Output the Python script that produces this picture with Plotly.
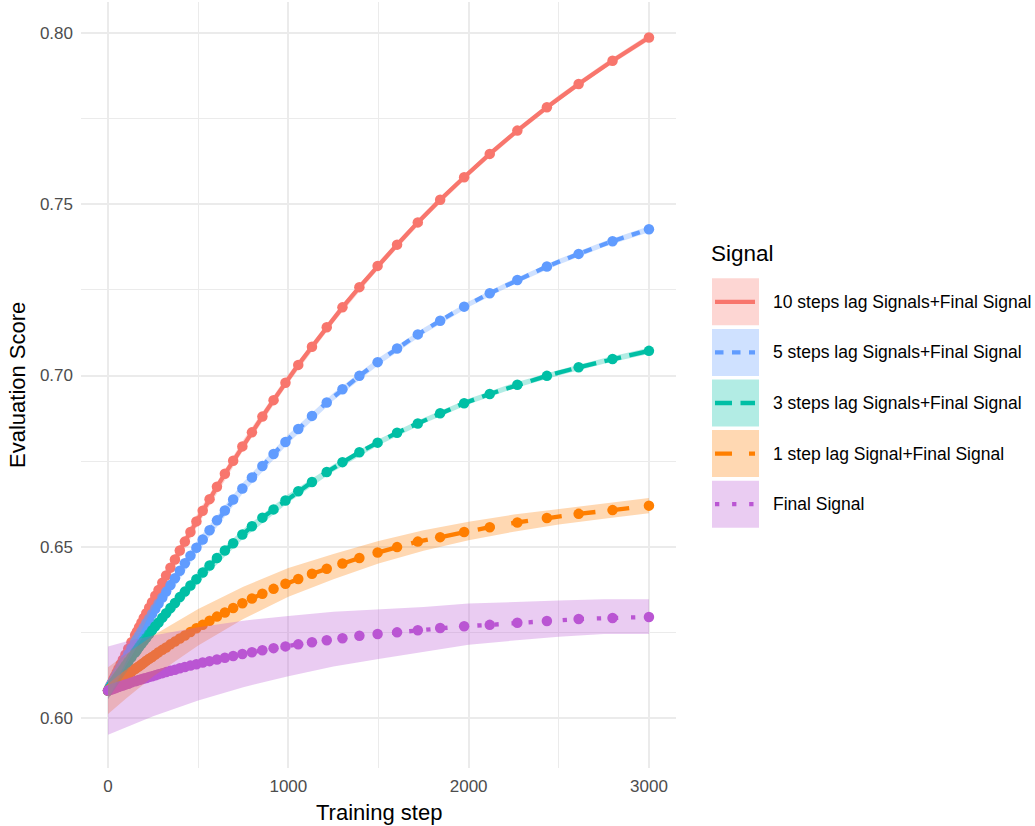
import plotly.graph_objects as go

# ---------------- data ----------------
steps = [0, 8, 15, 22, 30, 38, 48, 58, 70, 82, 96, 112, 130, 150, 160, 172, 185, 198, 212, 228,
         244, 262, 280, 301, 322, 346, 371, 398, 426, 457, 490, 525, 563, 604, 648, 694, 745, 798,
         856, 918, 984, 1055, 1131, 1213, 1300, 1394, 1495, 1603, 1718, 1842, 1975, 2117, 2270,
         2434, 2610, 2798, 3000]

lag10 = [.6080, .6089, .6097, .6104, .6113, .6122, .6133, .6144, .6157, .6170, .6185, .6202, .6221,
         .6242, .6252, .6265, .6278, .6292, .6306, .6322, .6338, .6357, .6374, .6395, .6416, .6439,
         .6463, .6489, .6515, .6543, .6574, .6605, .6639, .6675, .6713, .6751, .6793, .6834, .6880,
         .6928, .6979, .7031, .7084, .7141, .7199, .7258, .7320, .7382, .7447, .7513, .7579, .7647,
         .7715, .7783, .7851, .7919, .7987]

lag5 = [.6080, .6088, .6095, .6102, .6109, .6117, .6127, .6136, .6148, .6159, .6172, .6187, .6204,
        .6222, .6231, .6241, .6253, .6264, .6277, .6290, .6304, .6319, .6334, .6352, .6369, .6388,
        .6408, .6430, .6452, .6474, .6497, .6521, .6548, .6577, .6606, .6638, .6670, .6702, .6736,
        .6771, .6806, .6844, .6882, .6921, .6960, .6999, .7039, .7079, .7120, .7160, .7201, .7240,
        .7279, .7318, .7355, .7392, .7427]

lag3 = [.6080, .6086, .6091, .6097, .6103, .6109, .6117, .6124, .6133, .6142, .6153, .6164, .6177,
        .6191, .6198, .6207, .6216, .6225, .6234, .6245, .6256, .6268, .6279, .6293, .6306, .6321,
        .6336, .6353, .6369, .6387, .6405, .6425, .6445, .6467, .6489, .6510, .6536, .6560, .6585,
        .6609, .6635, .6662, .6689, .6718, .6747, .6776, .6804, .6833, .6860, .6890, .6919, .6946,
        .6973, .6999, .7024, .7048, .7072]

lag1 = [.6080, .6083, .6087, .6090, .6093, .6096, .6101, .6105, .6110, .6115, .6121, .6127, .6135,
        .6143, .6147, .6151, .6156, .6161, .6167, .6173, .6178, .6185, .6192, .6199, .6206, .6215,
        .6223, .6232, .6241, .6251, .6262, .6272, .6284, .6296, .6308, .6321, .6335, .6349, .6363,
        .6377, .6392, .6406, .6421, .6436, .6451, .6467, .6483, .6499, .6515, .6528, .6543, .6557,
        .6571, .6584, .6596, .6607, .6620]

final = [.6080, .6082, .6083, .6084, .6086, .6087, .6089, .6091, .6093, .6095, .6098, .6100, .6104,
         .6107, .6109, .6111, .6113, .6115, .6117, .6120, .6122, .6125, .6128, .6131, .6134, .6138,
         .6141, .6145, .6149, .6153, .6157, .6162, .6166, .6171, .6176, .6181, .6187, .6192, .6198,
         .6204, .6209, .6215, .6221, .6227, .6233, .6240, .6245, .6250, .6256, .6263, .6268, .6272,
         .6278, .6283, .6289, .6292, .6295]

# smoothing bands (lower / upper)
band_x = [0, 100, 250, 500, 750, 1000, 1250, 1500, 1750, 2000, 2250, 2500, 2750, 3000]

lag10_lo = [.6055, .6166, .6324, .6565, .6782, .6978, .7154, .7312, .7455, .7583, .7698, .7802, .7895, .7978]
lag10_hi = [.6105, .6212, .6366, .6601, .6812, .7004, .7176, .7332, .7473, .7599, .7714, .7818, .7911, .7996]

lag5_lo = [.6055, .6153, .6288, .6486, .6658, .6802, .6927, .7031, .7121, .7200, .7266, .7324, .7375, .7418]
lag5_hi = [.6105, .6199, .6330, .6522, .6688, .6828, .6949, .7051, .7139, .7216, .7282, .7340, .7391, .7436]

lag3_lo = [.6055, .6133, .6240, .6394, .6524, .6629, .6720, .6796, .6860, .6916, .6962, .7000, .7034, .7063]
lag3_hi = [.6105, .6179, .6280, .6428, .6552, .6653, .6740, .6814, .6876, .6932, .6978, .7016, .7050, .7081]

lag1_lo = [.6012, .6057, .6121, .6212, .6289, .6354, .6405, .6451, .6488, .6519, .6544, .6565, .6582, .6598]
lag1_hi = [.6148, .6187, .6241, .6318, .6383, .6438, .6479, .6517, .6548, .6573, .6594, .6611, .6626, .6642]

final_lo = [.5951, .5973, .6005, .6051, .6090, .6122, .6150, .6172, .6192, .6214, .6226, .6237, .6245, .6245]
final_hi = [.6209, .6223, .6241, .6265, .6284, .6298, .6310, .6318, .6324, .6334, .6338, .6343, .6347, .6347]

labels = ["10 steps lag Signals+Final Signal", "5 steps lag Signals+Final Signal",
          "3 steps lag Signals+Final Signal", "1 step lag Signal+Final Signal", "Final Signal"]
values = [lag10, lag5, lag3, lag1, final]
bands = [(lag10_lo, lag10_hi), (lag5_lo, lag5_hi), (lag3_lo, lag3_hi),
         (lag1_lo, lag1_hi), (final_lo, final_hi)]

y_ticks = [0.60, 0.65, 0.70, 0.75, 0.80]
x_ticks = [0, 1000, 2000, 3000]

# ---------------- styles ----------------
colors = ["#F8766D", "#619CFF", "#00BFA5", "#FF7F00", "#BA55D3"]
dashes = ["solid", "8.5px,8.5px", "17px,8.5px", "17px,17px", "4.3px,12.8px"]
LW = 4.3
FONT = "Liberation Sans, Arial, Helvetica, sans-serif"


def rgba(hex_color, a):
    h = hex_color.lstrip("#")
    r, g, b = int(h[0:2], 16), int(h[2:4], 16), int(h[4:6], 16)
    return f"rgba({r},{g},{b},{a})"


W, H = 1035, 826
ML, MR, MT, MB = 81, 359, 2, 58
PW, PH = W - ML - MR, H - MT - MB


def pxx(p):
    return (p - ML) / PW


def pxy(p):
    return (H - MB - p) / PH


fig = go.Figure()

# lines
for name, vals, col, dsh in zip(labels, values, colors, dashes):
    fig.add_trace(go.Scatter(x=steps, y=vals, mode="lines", name=name,
                             line=dict(color=col, width=LW, dash=dsh),
                             showlegend=False, hoverinfo="skip"))
# points
for name, vals, col in zip(labels, values, colors):
    fig.add_trace(go.Scatter(x=steps, y=vals, mode="markers", name=name,
                             marker=dict(color=col, size=10.5, line=dict(width=0)),
                             showlegend=False))
# ribbons on top
for name, (lo, hi), col in zip(labels, bands, colors):
    fig.add_trace(go.Scatter(x=band_x + band_x[::-1], y=lo + hi[::-1], mode="lines",
                             fill="toself", fillcolor=rgba(col, 0.3),
                             line=dict(width=0), showlegend=False, hoverinfo="skip"))

axis_common = dict(showline=False, zeroline=False, ticks="", automargin=False,
                   gridcolor="#EBEBEB", gridwidth=2,
                   tickfont=dict(family=FONT, size=17, color="#4D4D4D"))

fig.update_xaxes(range=[-150, 3150], tickvals=x_ticks, ticktext=[str(v) for v in x_ticks],
                 minor=dict(showgrid=True, gridcolor="#EBEBEB", gridwidth=1, dtick=500, tick0=0),
                 ticklabelstandoff=6, **axis_common)
fig.update_yaxes(range=[0.5854, 0.80905], tickvals=y_ticks, ticktext=[f"{v:.2f}" for v in y_ticks],
                 minor=dict(showgrid=True, gridcolor="#EBEBEB", gridwidth=1, dtick=0.025, tick0=0.6),
                 ticklabelstandoff=7, **axis_common)

shapes = []
annotations = []
top0, step, box = 278.3, 50.6, 47
for i, (name, col, dsh) in enumerate(zip(labels, colors, dashes)):
    top = top0 + i * step
    cy = top + box / 2
    shapes.append(dict(type="rect", xref="paper", yref="paper",
                       x0=pxx(712), x1=pxx(759), y0=pxy(top + box), y1=pxy(top),
                       fillcolor=rgba(col, 0.3), line=dict(width=0), layer="above"))
    shapes.append(dict(type="line", xref="paper", yref="paper",
                       x0=pxx(715), x1=pxx(755), y0=pxy(cy), y1=pxy(cy),
                       line=dict(color=col, width=LW, dash=dsh), layer="above"))
    annotations.append(dict(text=name, xref="paper", yref="paper", x=pxx(771), y=pxy(cy),
                            xanchor="left", yanchor="middle", showarrow=False,
                            font=dict(family=FONT, size=17.5, color="#000000")))

annotations.append(dict(text="Signal", xref="paper", yref="paper", x=pxx(709), y=pxy(253),
                        xanchor="left", yanchor="middle", showarrow=False,
                        font=dict(family=FONT, size=22.5, color="#000000")))
annotations.append(dict(text="Training step", xref="paper", yref="paper", x=0.5, y=pxy(812),
                        xanchor="center", yanchor="middle", showarrow=False,
                        font=dict(family=FONT, size=22, color="#000000")))
annotations.append(dict(text="Evaluation Score", xref="paper", yref="paper", x=pxx(17), y=0.5,
                        xanchor="center", yanchor="middle", textangle=-90, showarrow=False,
                        font=dict(family=FONT, size=22, color="#000000")))

fig.update_layout(width=W, height=H, margin=dict(l=ML, r=MR, t=MT, b=MB, autoexpand=False),
                  paper_bgcolor="white", plot_bgcolor="white", showlegend=False,
                  shapes=shapes, annotations=annotations,
                  font=dict(family=FONT))

fig.write_html("out.html",
               config={"displayModeBar": False},
               post_script="document.body.style.margin='0px';"
                           "document.body.style.padding='0px';"
                           "document.body.style.overflow='hidden';")
